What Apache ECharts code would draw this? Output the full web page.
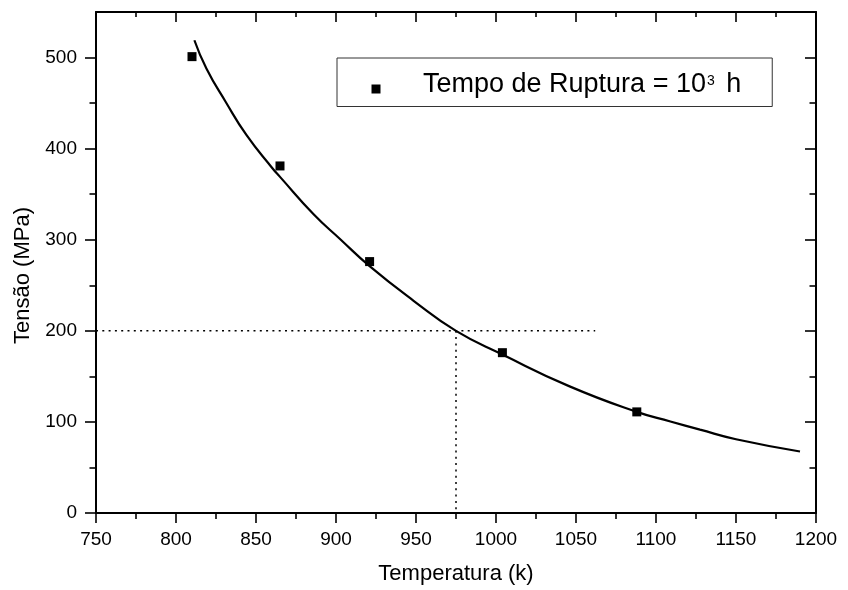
<!DOCTYPE html>
<html>
<head>
<meta charset="utf-8">
<script src="https://cdn.jsdelivr.net/npm/echarts@6/dist/echarts.min.js"></script>
<style>
  html, body { margin: 0; padding: 0; background: #fff; }
  #chart { width: 848px; height: 590px; }
</style>
</head>
<body>
<div id="chart"></div>
<script>
// measured points (rupture time 10^3 h)
const tempPts = [810, 865, 921, 1004, 1088];
const stressPts = [501, 381, 276, 176, 111];

// fitted curve
const fitTemp = [811.5, 819, 831, 844, 860, 865, 886, 903, 921, 948.5, 975, 1004, 1046, 1088, 1109, 1127.5, 1150, 1190];
const fitStress = [519, 488, 451.5, 415, 379, 369, 328, 300, 271, 233, 200, 174, 139, 111, 100.5, 91.5, 81, 67.5];

// dotted guide lines at 200 MPa
const guideH = [[750, 200], [1062, 200]];
const guideV = [[975, 200], [975, 0]];

// ticks
const yMajor = [0, 100, 200, 300, 400, 500];
const yMinor = [50, 150, 250, 350, 450];

const FONT = 'Liberation Sans, Arial, sans-serif';
const chart = echarts.init(document.getElementById('chart'));

function yAxisDef(pos, ticks, len, withLine, withLabels, inside) {
  return {
    type: 'value', position: pos, min: 0, max: 550,
    axisLine: { show: withLine, onZero: false, lineStyle: { color: '#000', width: 2 } },
    axisTick: { show: true, inside: inside, length: len, customValues: ticks,
      lineStyle: { color: '#000', width: 1.6 } },
    axisLabel: { show: withLabels, customValues: ticks, margin: 19, color: '#000', fontSize: 19, fontFamily: FONT },
    splitLine: { show: false }
  };
}

const yLeft = yAxisDef('left', yMajor, 11, true, true, false);
yLeft.name = 'Tensão (MPa)';
yLeft.nameLocation = 'middle';
yLeft.nameGap = 58;
yLeft.nameTextStyle = { color: '#000', fontSize: 22, fontFamily: FONT, padding: [0, 26, 0, 0] };

chart.setOption({
  animation: false,
  backgroundColor: '#fff',
  grid: { left: 96, right: 32, top: 12, bottom: 75 },
  legend: {
    data: ['Tempo de Ruptura'],
    left: 337, top: 58,
    padding: [13.5, 31, 0, 34.5],
    borderColor: '#333', borderWidth: 1,
    icon: 'rect', itemWidth: 9, itemHeight: 9,
    selectedMode: false,
    formatter: function (name) { return name + ' = 10{sup|3} h'; },
    textStyle: {
      color: '#000', fontSize: 27, lineHeight: 27, fontFamily: FONT,
      padding: [0, 0, 8, 37.5],
      rich: { sup: { fontSize: 14, fontFamily: FONT, color: '#000', verticalAlign: 'middle', padding: [0, 4, 8, 1] } }
    }
  },
  xAxis: [{
    type: 'value', position: 'bottom', min: 750, max: 1200, interval: 50,
    name: 'Temperatura (k)', nameLocation: 'middle', nameGap: 50,
    nameTextStyle: { color: '#000', fontSize: 22, fontFamily: FONT },
    axisLine: { onZero: false, lineStyle: { color: '#000', width: 2 } },
    axisTick: { length: 10, lineStyle: { color: '#000', width: 1.6 } },
    minorTick: { show: true, splitNumber: 2, length: 6, lineStyle: { color: '#000', width: 1.6 } },
    axisLabel: { margin: 17, color: '#000', fontSize: 19, fontFamily: FONT, formatter: v => String(v) },
    splitLine: { show: false }
  }, {
    type: 'value', position: 'top', min: 750, max: 1200, interval: 50,
    axisLine: { onZero: false, lineStyle: { color: '#000', width: 2 } },
    axisTick: { inside: true, length: 10, lineStyle: { color: '#000', width: 1.6 } },
    minorTick: { show: true, splitNumber: 2, length: 5, lineStyle: { color: '#000', width: 1.6 } },
    axisLabel: { show: false },
    splitLine: { show: false }
  }],
  yAxis: [
    yLeft,
    yAxisDef('left', yMinor, 6.5, false, false, false),
    yAxisDef('right', yMajor, 11, true, false, true),
    yAxisDef('right', yMinor, 6.5, false, false, true)
  ],
  series: [{
    type: 'line', data: guideH, symbol: 'none', silent: true,
    lineStyle: { color: '#000', width: 1.5, type: [2, 4.3] }, z: 1
  }, {
    type: 'line', data: guideV, symbol: 'none', silent: true,
    lineStyle: { color: '#000', width: 1.5, type: [2, 4.3] }, z: 1
  }, {
    type: 'line', data: fitTemp.map((t, i) => [t, fitStress[i]]),
    symbol: 'none', smooth: 0.5,
    lineStyle: { color: '#000', width: 2.2 }, z: 2
  }, {
    name: 'Tempo de Ruptura', type: 'scatter',
    data: tempPts.map((t, i) => [t, stressPts[i]]),
    symbol: 'rect', symbolSize: 9,
    itemStyle: { color: '#000', opacity: 1 }, z: 3
  }]
});
</script>
</body>
</html>
